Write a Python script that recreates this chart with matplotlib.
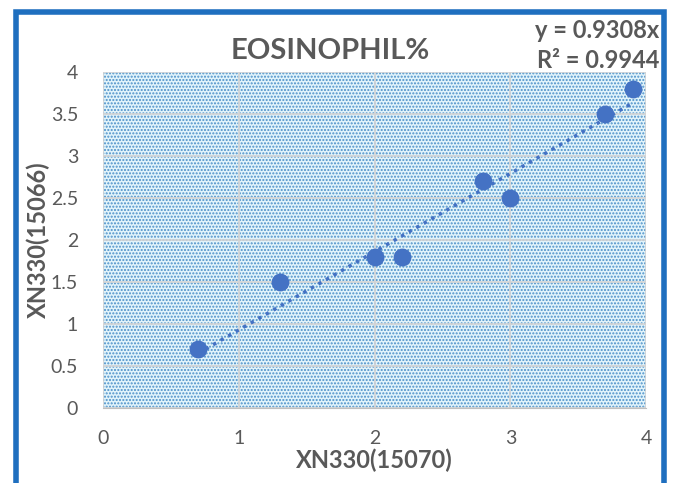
import matplotlib
matplotlib.use('Agg')
import matplotlib.pyplot as plt
import matplotlib.patches as patches
import numpy as np

plt.rcParams['font.family'] = ['Lato', 'DejaVu Sans']
plt.rcParams['hatch.linewidth'] = 1.0

x = [0.7, 1.3, 2.0, 2.2, 2.8, 3.0, 3.7, 3.9]
y = [0.7, 1.5, 1.8, 1.8, 2.7, 2.5, 3.5, 3.8]
slope = 0.9308
r2 = 0.9944
xticks = [0, 1, 2, 3, 4]
yticks = [0, 0.5, 1, 1.5, 2, 2.5, 3, 3.5, 4]

fig = plt.figure(figsize=(6.78, 4.83), dpi=100)
ax = fig.add_axes([0.152, 0.155, 0.801, 0.696])

# dotted background
bg = patches.Rectangle((0, 0), 1, 1, transform=ax.transAxes, facecolor='#e2f4fb',
                       edgecolor='#4a8fc8', hatch='.....', linewidth=0, zorder=0)
ax.add_patch(bg)
ax.set_facecolor('#e2f4fb')

ax.grid(True, color='#d4d4d4', linewidth=1.2, zorder=1)
ax.set_axisbelow(True)

xl = np.array([min(x), max(x)])
ax.plot(xl, slope * xl, linestyle=(0, (1, 1.5)), color='#4472c4', linewidth=2.5, zorder=3)
ax.scatter(x, y, s=140, color='#4472c4', zorder=4)

ax.set_xlim(0, 4)
ax.set_ylim(0, 4)
ax.set_xticks(xticks)
ax.set_yticks(yticks)
ax.set_yticklabels([f'{t:g}' for t in yticks])
ax.tick_params(length=0, labelsize=14, colors='#595959', pad=18)
ax.tick_params(axis='x', pad=16)
for s in ax.spines.values():
    s.set_visible(False)
ax.spines['bottom'].set_visible(True)
ax.spines['bottom'].set_color('#bfbfbf')

ax.set_xlabel('XN330(15070)', fontsize=17, fontweight='bold', color='#595959', labelpad=1)
ax.set_ylabel('XN330(15066)', fontsize=17, fontweight='bold', color='#595959')
ax.yaxis.set_label_coords(-0.098, 0.5)
fig.text(0.487, 0.895, 'EOSINOPHIL%', ha='center', va='center', fontsize=21,
         fontweight='bold', color='#595959')
fig.text(0.973, 0.937, f'y = {slope}x', ha='right', va='center', fontsize=17,
         fontweight='bold', color='#595959')
fig.text(0.973, 0.875, f'R² = {r2}', ha='right', va='center', fontsize=17,
         fontweight='bold', color='#595959')

frame = patches.Rectangle((16 / 678, -0.05), 648 / 678, 1 - 12 / 483 + 0.05,
                          transform=fig.transFigure, fill=False,
                          edgecolor='#1f6fbf', linewidth=4)
fig.patches.append(frame)

fig.savefig('out.png', dpi=100)
